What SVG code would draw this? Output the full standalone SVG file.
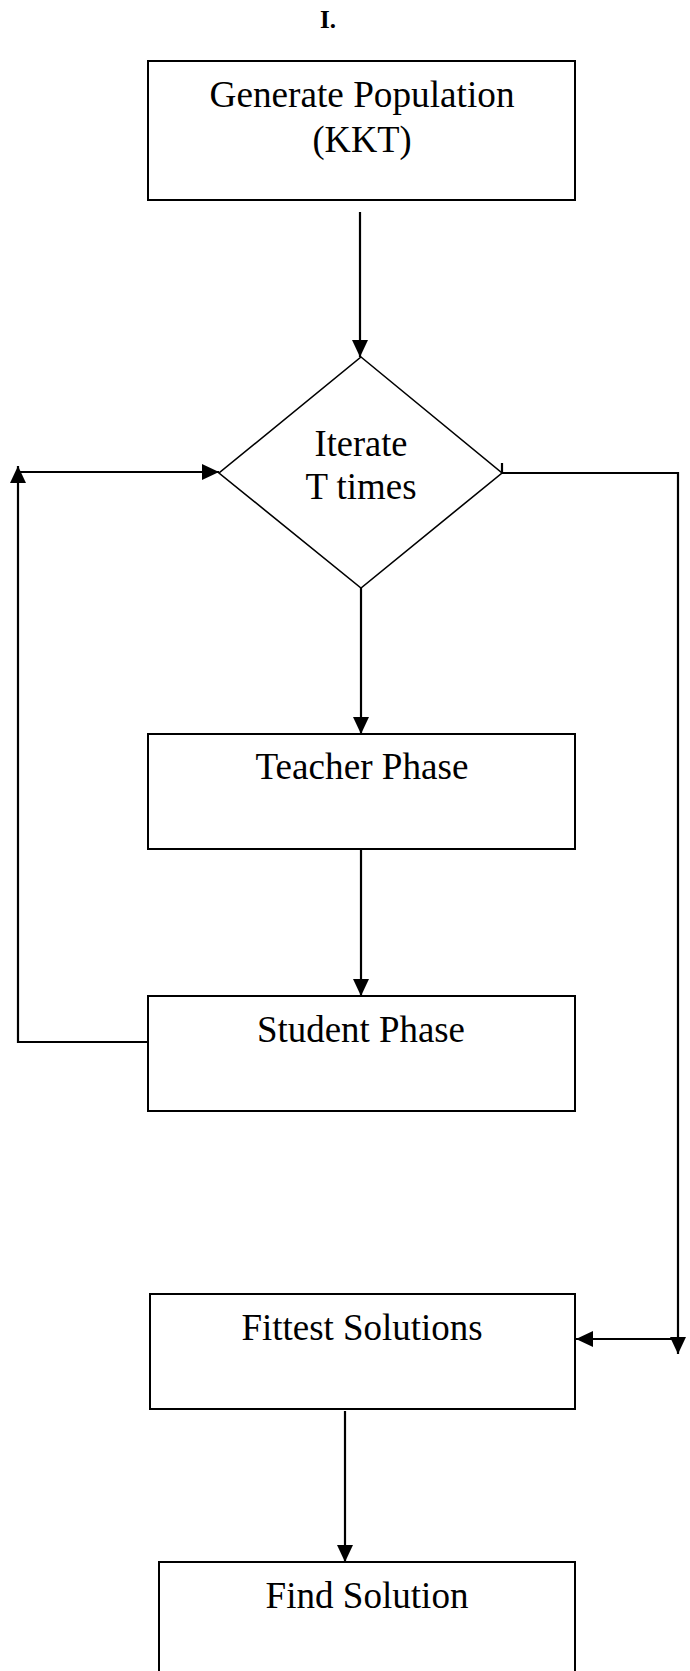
<svg xmlns="http://www.w3.org/2000/svg" width="690" height="1671" viewBox="0 0 690 1671">
<style>
  .box { fill: #ffffff; stroke: #000000; stroke-width: 2; }
  .dia { fill: #ffffff; stroke: #000000; stroke-width: 1.6; }
  .lbl { font-family: "Liberation Serif", "Times New Roman", serif; font-size: 38px; fill: #000000; text-anchor: middle; }
  .ttl { font-family: "Liberation Serif", "Times New Roman", serif; font-size: 25px; font-weight: bold; fill: #000000; text-anchor: middle; }
  .con { fill: none; stroke: #000000; stroke-width: 2.2; }
</style>
<defs>
  <marker id="arr" markerUnits="userSpaceOnUse" markerWidth="17" markerHeight="16" refX="17" refY="8" orient="auto">
    <path d="M0,0 L17,8 L0,16 z" fill="#000000"/>
  </marker>
</defs>
<rect x="0" y="0" width="690" height="1671" fill="#ffffff"/>
<text class="ttl" x="328" y="28">I.</text>

<g id="connectors">
  <path class="con" d="M360,212 V357" marker-end="url(#arr)"/>
  <path class="con" d="M361,588 V734" marker-end="url(#arr)"/>
  <path class="con" d="M361,849 V996" marker-end="url(#arr)"/>
  <path class="con" d="M148,1042 H18 V466" marker-end="url(#arr)"/>
  <path class="con" d="M18,472 H219" marker-end="url(#arr)"/>
  <path class="con" d="M502,473 H678 V1354" marker-end="url(#arr)"/>
  <path class="con" d="M678,1339 H576" marker-end="url(#arr)"/>
  <path class="con" d="M502,463 V473" stroke-width="1.6"/>
  <path class="con" d="M345,1411 V1562" marker-end="url(#arr)"/>
</g>

<g id="generate">
  <rect class="box" x="148" y="61" width="427" height="139"/>
  <text class="lbl" x="362" y="107" textLength="305" lengthAdjust="spacingAndGlyphs">Generate Population</text>
  <text class="lbl" x="362" y="152" textLength="99" lengthAdjust="spacingAndGlyphs">(KKT)</text>
</g>

<g id="iterate">
  <polygon class="dia" points="361,357 502,473 361,588 219,473"/>
  <text class="lbl" x="361" y="456" textLength="93" lengthAdjust="spacingAndGlyphs">Iterate</text>
  <text class="lbl" x="361" y="499" textLength="111" lengthAdjust="spacingAndGlyphs">T times</text>
</g>

<g id="teacher">
  <rect class="box" x="148" y="734" width="427" height="115"/>
  <text class="lbl" x="362" y="779" textLength="213" lengthAdjust="spacingAndGlyphs">Teacher Phase</text>
</g>

<g id="student">
  <rect class="box" x="148" y="996" width="427" height="115"/>
  <text class="lbl" x="361" y="1042" textLength="208" lengthAdjust="spacingAndGlyphs">Student Phase</text>
</g>

<g id="fittest">
  <rect class="box" x="150" y="1294" width="425" height="115"/>
  <text class="lbl" x="362" y="1340" textLength="241" lengthAdjust="spacingAndGlyphs">Fittest Solutions</text>
</g>

<g id="find">
  <rect class="box" x="159" y="1562" width="416" height="130"/>
  <text class="lbl" x="367" y="1608" textLength="203" lengthAdjust="spacingAndGlyphs">Find Solution</text>
</g>
</svg>
